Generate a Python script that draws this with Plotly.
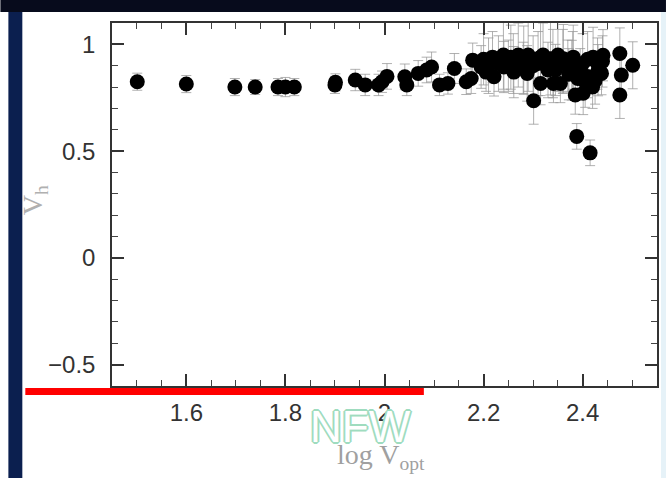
import plotly.graph_objects as go

# ---- data ----
log_v_opt = [1.501, 1.600, 1.698, 1.739, 1.785, 1.800, 1.818, 1.900, 1.901, 1.941,
             1.961, 1.988, 1.995, 2.005, 2.041, 2.045, 2.068, 2.085, 2.095, 2.111,
             2.128, 2.141, 2.165, 2.175, 2.178, 2.195, 2.218, 2.221, 2.241, 2.255,
             2.261, 2.281, 2.288, 2.301, 2.315, 2.315, 2.335, 2.341, 2.355, 2.361,
             2.378, 2.381, 2.385, 2.388, 2.401, 2.405, 2.415, 2.421, 2.431, 2.438,
             2.441, 2.475, 2.478, 2.475, 2.501,
             2.200, 2.230, 2.270, 2.300, 2.330, 2.350, 2.370, 2.400, 2.390, 2.420,
             2.440, 2.250, 2.320,
             2.210, 2.240, 2.260, 2.280, 2.290, 2.310, 2.340, 2.360, 2.380, 2.410,
             2.430, 2.395, 2.410, 2.372, 2.425, 2.205, 2.345]
v_h = [0.825, 0.814, 0.800, 0.800, 0.800, 0.800, 0.800, 0.810, 0.822, 0.833,
       0.810, 0.810, 0.825, 0.850, 0.848, 0.810, 0.864, 0.880, 0.894, 0.810,
       0.817, 0.887, 0.825, 0.840, 0.926, 0.894, 0.940, 0.848, 0.894, 0.940,
       0.870, 0.926, 0.864, 0.736, 0.940, 0.817, 0.933, 0.817, 0.817, 0.933,
       0.879, 0.940, 0.763, 0.569, 0.771, 0.825, 0.492, 0.940, 0.879, 0.864,
       0.949, 0.957, 0.856, 0.763, 0.902,
       0.930, 0.910, 0.950, 0.900, 0.880, 0.950, 0.900, 0.910, 0.840, 0.800,
       0.920, 0.900, 0.950,
       0.900, 0.950, 0.910, 0.890, 0.950, 0.910, 0.910, 0.920, 0.920, 0.930,
       0.910, 0.870, 0.850, 0.860, 0.830, 0.870, 0.880]
v_h_err = [0.04, 0.04, 0.04, 0.035, 0.04, 0.045, 0.04, 0.04, 0.04, 0.05,
           0.05, 0.05, 0.05, 0.06, 0.06, 0.05, 0.06, 0.06, 0.07, 0.05,
           0.05, 0.07, 0.06, 0.07, 0.08, 0.10, 0.12, 0.09, 0.12, 0.15,
           0.12, 0.16, 0.13, 0.11, 0.18, 0.10, 0.17, 0.09, 0.09, 0.16,
           0.14, 0.15, 0.09, 0.06, 0.10, 0.12, 0.06, 0.14, 0.12, 0.10,
           0.12, 0.12, 0.10, 0.11, 0.11,
           0.12, 0.13, 0.15, 0.14, 0.13, 0.17, 0.12, 0.14, 0.10, 0.10,
           0.12, 0.12, 0.15,
           0.13, 0.16, 0.14, 0.12, 0.17, 0.15, 0.16, 0.15, 0.14, 0.13,
           0.12, 0.11, 0.10, 0.12, 0.11, 0.09, 0.12]

x_range = [1.45, 2.55]
y_range = [-0.6, 1.1]
x_title = "log V<sub>opt</sub>"
y_title = "V<sub>h</sub>"
stamp = "NFW"

# ---- layout geometry (pixels) ----
W, H = 668, 478
L, R, T, B = 112, 9, 23, 92
pw, ph = W - L - R, H - T - B


def px(x):
    return (x - L) / pw


def py(y):
    return (H - B - y) / ph


fig = go.Figure()
fig.add_trace(go.Scatter(
    x=log_v_opt, y=v_h, mode="markers",
    marker=dict(color="black", size=15, line=dict(width=0)),
    error_y=dict(type="data", array=v_h_err, visible=True,
                 color="rgba(150,150,150,0.75)", thickness=1, width=5),
    showlegend=False, hoverinfo="x+y",
))

tickfont = dict(family="Liberation Sans, Arial, sans-serif", size=24, color="#333333")
fig.update_xaxes(
    range=x_range, tick0=1.6, dtick=0.2, ticks="inside", ticklen=12, tickwidth=1.5,
    tickcolor="#333", showline=True, linecolor="#333", linewidth=1.5, mirror="ticks",
    showgrid=False, zeroline=False, tickfont=tickfont, ticklabelstandoff=4,
    minor=dict(dtick=0.05, ticks="inside", ticklen=6, tickcolor="#444", tickwidth=1.2),
)
fig.update_yaxes(
    range=y_range, tick0=0, dtick=0.5, ticks="inside", ticklen=12, tickwidth=1.5,
    tickcolor="#333", showline=True, linecolor="#333", linewidth=1.5, mirror="ticks",
    showgrid=False, zeroline=False, tickfont=tickfont, ticklabelstandoff=10,
    minor=dict(dtick=0.1, ticks="inside", ticklen=6, tickcolor="#444", tickwidth=1.2),
)

shapes = [
    # dark top band
    dict(type="rect", xref="paper", yref="paper", x0=px(0), x1=px(W), y0=py(12), y1=py(0),
         fillcolor="#070b1c", line=dict(width=0), layer="above"),
    # navy left band
    dict(type="rect", xref="paper", yref="paper", x0=px(8), x1=px(22), y0=py(H), y1=py(12),
         fillcolor="#0b1f4f", line=dict(width=0), layer="above"),
    # light right strip
    dict(type="rect", xref="paper", yref="paper", x0=px(663), x1=px(W), y0=py(H), y1=py(12),
         fillcolor="#e6f2f8", line=dict(width=0), layer="below"),
    # red underline
    dict(type="rect", xref="paper", yref="paper", x0=px(25), x1=px(425), y0=py(395), y1=py(388),
         fillcolor="#ff0000", line=dict(width=0), layer="above"),
]

annotations = [
    dict(text=x_title, xref="paper", yref="paper", x=px(382), y=py(456),
         showarrow=False, xanchor="center", yanchor="middle",
         font=dict(family="Liberation Serif, Times New Roman, serif", size=28, color="#a0a0a0")),
    dict(text=y_title, xref="paper", yref="paper", x=px(34), y=py(200),
         showarrow=False, xanchor="center", yanchor="middle", textangle=-90,
         font=dict(family="Liberation Serif, Times New Roman, serif", size=28, color="#b0b0b0")),
    dict(text=stamp, xref="paper", yref="paper", x=px(361), y=py(426),
         showarrow=False, xanchor="center", yanchor="middle",
         font=dict(family="Liberation Sans, Arial, sans-serif", size=44, color="#ffffff",
                   shadow="2px 0 0 #9fdcbf, -2px 0 0 #9fdcbf, 0 2px 0 #9fdcbf, 0 -2px 0 #9fdcbf, "
                          "1px 1px 0 #9fdcbf, -1px -1px 0 #9fdcbf, 1px -1px 0 #9fdcbf, -1px 1px 0 #9fdcbf")),
]

fig.update_layout(
    width=W, height=H, margin=dict(l=L, r=R, t=T, b=B, pad=0),
    paper_bgcolor="white", plot_bgcolor="white",
    shapes=shapes, annotations=annotations, showlegend=False,
)

fig.write_html("out.html", config={"displayModeBar": False},
               post_script="document.body.style.margin='0';document.body.style.overflow='hidden';")
